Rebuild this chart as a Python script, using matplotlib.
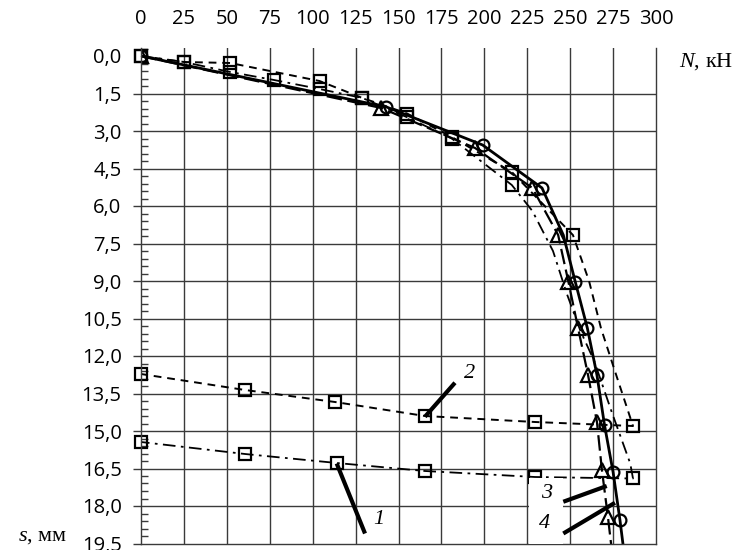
import matplotlib.pyplot as plt
from matplotlib.patches import Rectangle
from matplotlib.ticker import MultipleLocator

plt.rcParams['mathtext.fontset'] = 'custom'
plt.rcParams['mathtext.it'] = 'Liberation Serif:italic'
plt.rcParams['mathtext.rm'] = 'Liberation Serif'

# load N (kN) and settlement s (mm)
# curve 1: dash-dot, squares (loading then unloading)
n1 = [0, 25, 52, 77.5, 104, 129, 155, 181, 216, 228, 240, 248, 256, 264, 274, 285, 286.6,
      229.5, 165.4, 114, 60.6, 0]
s1 = [0, 0.24, 0.64, 0.96, 1.32, 1.68, 2.45, 3.3, 5.16, 6.2, 7.8, 9.5, 11.0, 12.2, 14.2, 16.3, 16.9,
      16.84, 16.6, 16.28, 15.92, 15.44]
mk1 = [0, 1, 2, 3, 4, 5, 6, 7, 8, 16, 17, 18, 19, 20, 21]

# curve 2: dashed, squares (loading then unloading)
n2 = [0, 25, 52, 104, 129, 155, 181, 216, 251.6, 261, 268, 277, 286.6,
      229.5, 165.4, 113, 60.6, 0]
s2 = [0, 0.24, 0.28, 1.0, 1.68, 2.3, 3.24, 4.64, 7.16, 9.0, 10.9, 12.8, 14.8,
      14.64, 14.4, 13.84, 13.36, 12.72]
mk2 = [0, 1, 2, 3, 4, 5, 6, 7, 8, 12, 13, 14, 15, 16, 17]

# curve 3: long dash, triangles
n3 = [0, 140, 194.6, 228, 243, 249, 254.6, 260.4, 265.6, 268.5, 272, 275]
s3 = [0, 2.08, 3.68, 5.28, 7.16, 9.04, 10.88, 12.76, 14.64, 16.56, 18.44, 20.2]

# curve 4: solid, circles
n4 = [0, 143, 199, 233.6, 246, 253, 260, 265.6, 270, 275, 279, 282]
s4 = [0, 2.04, 3.56, 5.28, 7.16, 9.04, 10.88, 12.76, 14.76, 16.64, 18.56, 20.2]
mk4 = [0, 1, 2, 3, 5, 6, 7, 8, 9, 10]

x_ticks = list(range(0, 301, 25))
y_ticks = [0, 1.5, 3.0, 4.5, 6.0, 7.5, 9.0, 10.5, 12.0, 13.5, 15.0, 16.5, 18.0, 19.5]
y_labels = ['0,0', '1,5', '3,0', '4,5', '6,0', '7,5', '9,0', '10,5', '12,0',
            '13,5', '15,0', '16,5', '18,0', '19,5']

# curve labels: text, text position, leader start, leader end
labels = [
    ('1', (138.6, 18.56), (114, 16.3), (130.5, 19.1)),
    ('2', (191.6, 12.68), (165.4, 14.43), (182.9, 13.07)),
    ('3', (236.5, 17.48), (246, 17.83), (271.3, 17.2)),
    ('4', (234.8, 18.68), (246, 19.1), (276.1, 17.87)),
]

fig = plt.figure(figsize=(7.38, 5.5), dpi=100)
ax = fig.add_axes([141/738, 1 - 543.5/550, 515/738, 495.5/550])

grid_c = '#3a3a3a'
ax.set_xlim(0, 300)
ax.set_ylim(19.5, -0.32)

ax.plot(n1, s1, color='black', lw=1.3, dashes=(7, 3, 1.5, 3), marker='s', ms=8.5,
        mfc='none', mec='black', mew=1.6, markevery=mk1, clip_on=False)
ax.plot(n2, s2, color='black', lw=1.4, dashes=(4, 3), marker='s', ms=8.5,
        mfc='none', mec='black', mew=1.6, markevery=mk2, clip_on=False)
ax.plot(n3, s3, color='black', lw=1.6, dashes=(7, 2.5), marker='^', ms=10,
        mfc='none', mec='black', mew=1.6, markevery=list(range(len(n3) - 1)))
ax.plot(n4, s4, color='black', lw=2.0, marker='o', ms=8.5,
        mfc='none', mec='black', mew=1.6, markevery=mk4)

# white patch behind labels 3 and 4
ax.add_patch(Rectangle((225.8, 16.9), 20.2, 2.6, facecolor='white', edgecolor='none', zorder=3))

for txt, tpos, p0, p1 in labels:
    ax.plot([p0[0], p1[0]], [p0[1], p1[1]], color='black', lw=3, solid_capstyle='butt',
            zorder=4, clip_on=False)
    ax.text(tpos[0], tpos[1], txt, fontsize=16, family='Liberation Serif', style='italic',
            ha='center', va='center', zorder=5)

# grid
for x in x_ticks[1:-1]:
    ax.axvline(x, color=grid_c, lw=1.0, zorder=1)
for y in y_ticks[1:-1]:
    ax.axhline(y, color=grid_c, lw=1.0, zorder=1)

ax.xaxis.tick_top()
ax.set_xticks(x_ticks)
ax.set_xticklabels([str(v) for v in x_ticks])
ax.tick_params(axis='x', length=0, pad=14, labelsize=14.5)
ax.set_yticks(y_ticks)
ax.set_yticklabels(y_labels)
ax.yaxis.set_minor_locator(MultipleLocator(0.3))
ax.tick_params(axis='y', which='major', direction='out', length=6, width=1.0,
               color=grid_c, pad=8, labelsize=14.5)
ax.tick_params(axis='y', which='minor', direction='in', length=5, width=1.0, color=grid_c)
ax.yaxis.get_major_ticks()[0].tick1line.set_visible(False)
for lab in ax.get_xticklabels() + ax.get_yticklabels():
    lab.set_family('Open Sans')

ax.spines['top'].set_visible(False)
for sp in ('left', 'right', 'bottom'):
    ax.spines[sp].set_color(grid_c)
    ax.spines[sp].set_linewidth(1.0)

fig.text(679/738, 1 - 62/550, '$N$, кН', fontsize=16, family='Liberation Serif', va='center')
fig.text(18/738, 1 - 537/550, '$s$, мм', fontsize=16, family='Liberation Serif', va='center')

fig.savefig('out.png', dpi=100)
